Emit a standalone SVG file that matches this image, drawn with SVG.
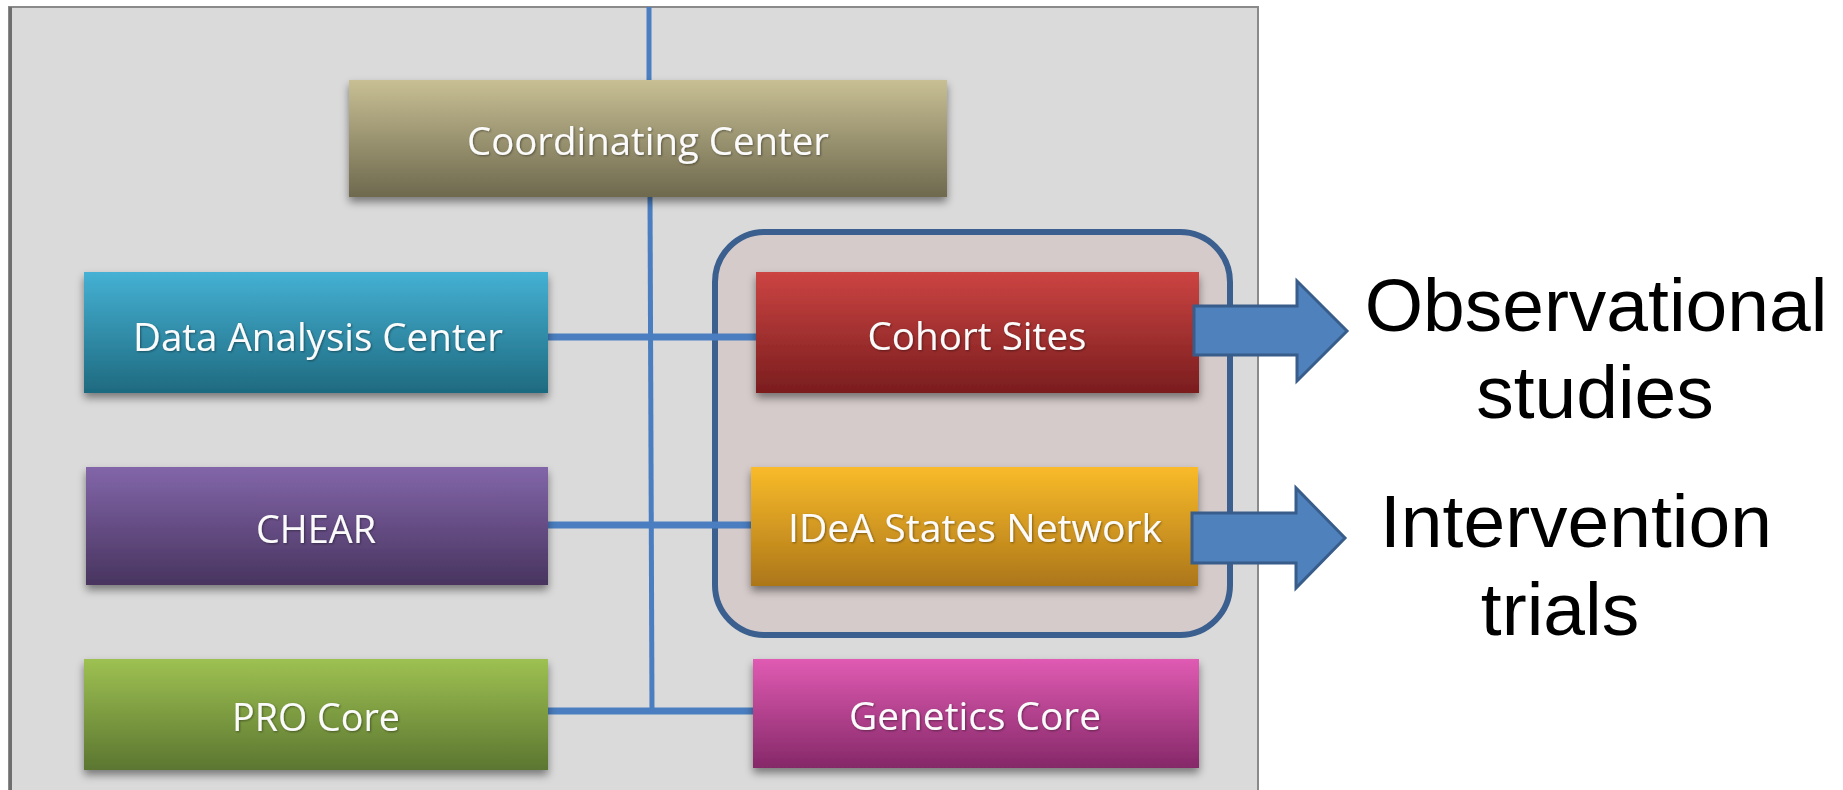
<svg xmlns="http://www.w3.org/2000/svg" width="1843" height="790" viewBox="0 0 1843 790">
<defs>
<linearGradient id="gCoord" x1="0" y1="0" x2="0" y2="1"><stop offset="0" stop-color="#c8bf94"/><stop offset="1" stop-color="#6e694e"/></linearGradient>
<linearGradient id="gDac" x1="0" y1="0" x2="0" y2="1"><stop offset="0" stop-color="#45b1d4"/><stop offset="1" stop-color="#1e6a7f"/></linearGradient>
<linearGradient id="gCohort" x1="0" y1="0" x2="0" y2="1"><stop offset="0" stop-color="#cc4442"/><stop offset="1" stop-color="#7a1d1e"/></linearGradient>
<linearGradient id="gChear" x1="0" y1="0" x2="0" y2="1"><stop offset="0" stop-color="#8266a9"/><stop offset="1" stop-color="#48345f"/></linearGradient>
<linearGradient id="gIdea" x1="0" y1="0" x2="0" y2="1"><stop offset="0" stop-color="#f9bb2a"/><stop offset="1" stop-color="#ac7619"/></linearGradient>
<linearGradient id="gPro" x1="0" y1="0" x2="0" y2="1"><stop offset="0" stop-color="#9ec152"/><stop offset="1" stop-color="#5b7630"/></linearGradient>
<linearGradient id="gGen" x1="0" y1="0" x2="0" y2="1"><stop offset="0" stop-color="#e05bb3"/><stop offset="1" stop-color="#852868"/></linearGradient>
<filter id="shadow" x="-5%" y="-10%" width="110%" height="130%">
<feDropShadow dx="0" dy="5" stdDeviation="4" flood-color="#000" flood-opacity="0.45"/>
</filter>
<filter id="tshadow" x="-5%" y="-20%" width="110%" height="140%">
<feDropShadow dx="1" dy="1" stdDeviation="1" flood-color="#000" flood-opacity="0.4"/>
</filter>
</defs>
<style>
.box{filter:url(#shadow);}
.lbl{font-family:"Open Sans","DejaVu Sans",sans-serif;font-size:38px;fill:#fbfbfb;text-anchor:middle;filter:url(#tshadow);}
.conn{stroke:#4a7ec0;fill:none;}
.big{font-family:"Liberation Sans",Arial,sans-serif;font-size:75px;fill:#000;text-anchor:middle;}
.barrow{fill:#4f81bd;stroke:#385d8a;stroke-width:3;stroke-linejoin:miter;}
</style>
<rect x="0" y="0" width="1843" height="790" fill="#ffffff"/>
<rect id="panel" x="9" y="7" width="1249" height="790" fill="#dadada" stroke="#8a8a8a" stroke-width="2"/>
<rect x="9" y="7" width="3" height="790" fill="#6e6e6e"/>

<g id="group-highlight">
<rect x="715" y="232" width="515" height="403" rx="50" ry="50" fill="#d6cbcb" stroke="#3b5f8e" stroke-width="6"/>
</g>

<g id="connectors">
<line class="conn" x1="649" y1="7" x2="649" y2="82" stroke-width="5"/>
<line class="conn" x1="650" y1="195" x2="652" y2="714" stroke-width="5"/>
<line class="conn" x1="547" y1="337" x2="757" y2="337" stroke-width="7"/>
<line class="conn" x1="547" y1="525" x2="753" y2="525" stroke-width="7"/>
<line class="conn" x1="547" y1="711" x2="755" y2="711" stroke-width="7"/>
</g>

<g id="node-coordinating-center">
<rect class="box" x="349" y="80" width="598" height="117" fill="url(#gCoord)"/>
<text class="lbl" x="648" y="155" textLength="362" lengthAdjust="spacingAndGlyphs">Coordinating Center</text>
</g>
<g id="node-data-analysis-center">
<rect class="box" x="84" y="272" width="464" height="121" fill="url(#gDac)"/>
<text class="lbl" x="318" y="351" textLength="370" lengthAdjust="spacingAndGlyphs">Data Analysis Center</text>
</g>
<g id="node-cohort-sites">
<rect class="box" x="756" y="272" width="443" height="121" fill="url(#gCohort)"/>
<text class="lbl" x="977" y="350" textLength="219" lengthAdjust="spacingAndGlyphs">Cohort Sites</text>
</g>
<g id="node-chear">
<rect class="box" x="86" y="467" width="462" height="118" fill="url(#gChear)"/>
<text class="lbl" x="316" y="543" textLength="120" lengthAdjust="spacingAndGlyphs">CHEAR</text>
</g>
<g id="node-idea-states-network">
<rect class="box" x="751" y="467" width="447" height="119" fill="url(#gIdea)"/>
<text class="lbl" x="975" y="542" textLength="374" lengthAdjust="spacingAndGlyphs">IDeA States Network</text>
</g>
<g id="node-pro-core">
<rect class="box" x="84" y="659" width="464" height="111" fill="url(#gPro)"/>
<text class="lbl" x="316" y="731" textLength="168" lengthAdjust="spacingAndGlyphs">PRO Core</text>
</g>
<g id="node-genetics-core">
<rect class="box" x="753" y="659" width="446" height="109" fill="url(#gGen)"/>
<text class="lbl" x="975" y="730" textLength="252" lengthAdjust="spacingAndGlyphs">Genetics Core</text>
</g>

<g id="arrow-observational">
<path class="barrow" d="M1194,306 L1297,306 L1297,281 L1347,331 L1297,381 L1297,355 L1194,355 Z"/>
</g>
<g id="arrow-intervention">
<path class="barrow" d="M1192,513 L1296,513 L1296,488 L1345,538 L1296,588 L1296,563 L1192,563 Z"/>
</g>

<g id="label-observational">
<text class="big" x="1596" y="331">Observational</text>
<text class="big" x="1595" y="418">studies</text>
</g>
<g id="label-intervention">
<text class="big" x="1576" y="547">Intervention</text>
<text class="big" x="1560" y="635">trials</text>
</g>
</svg>
